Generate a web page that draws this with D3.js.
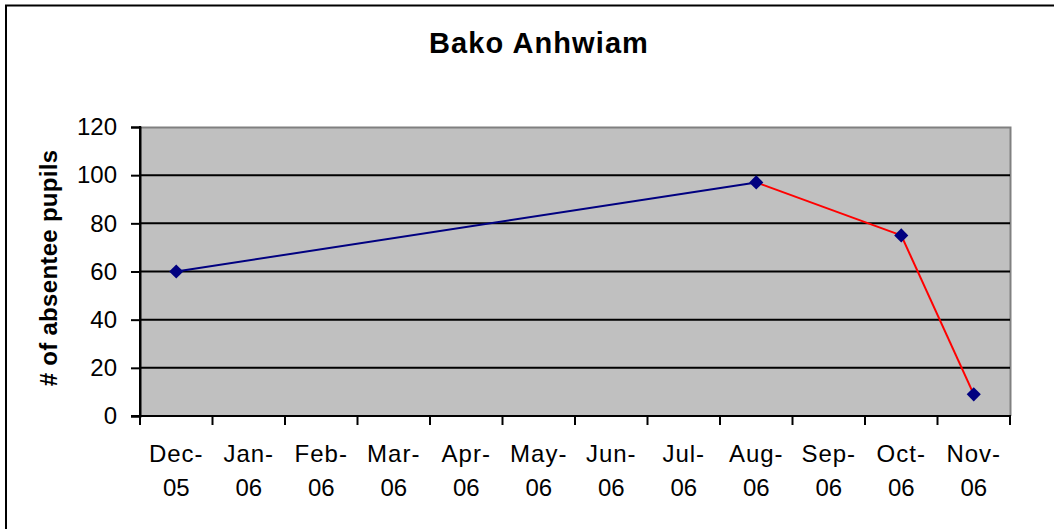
<!DOCTYPE html>
<html lang="en">
<head>
    <meta charset="UTF-8">
    <title>Bako Anhwiam</title>
    <script src="https://d3js.org/d3.v7.min.js"></script>
    <style>
        body{
            margin:0;
            background-color: white;
        }
        svg{
            display:block;
            font-family: "Liberation Sans", Arial, sans-serif;
        }
    </style>
</head>
<body>
    <script>
        // data
        const months = ["Dec-05","Jan-06","Feb-06","Mar-06","Apr-06","May-06","Jun-06","Jul-06","Aug-06","Sep-06","Oct-06","Nov-06"];
        const absentees = [60,null,null,null,null,null,null,null,97,null,75,9];
        const yTicks = [0,20,40,60,80,100,120];
        const chartTitle = "Bako Anhwiam";
        const yTitle = "# of absentee pupils";

        const w = 1054;
        const h = 529;
        const plot = {left:140,right:1010,top:127,bottom:416};
        const segColors = ["#000080","#FF0000","#FF0000"];

        const svg = d3.select("body").append("svg").attr("width",w).attr("height",h);

        // outer chart border
        svg.append("rect").attr("x",6).attr("y",5.5).attr("width",1200).attr("height",700)
            .attr("fill","white").attr("stroke","black").attr("stroke-width",2);

        const xScale = d3.scaleBand().domain(months).range([plot.left,plot.right]).padding(0);
        const yScale = d3.scaleLinear().domain([0,120]).range([plot.bottom,plot.top]);

        // plot area
        svg.append("rect").attr("x",plot.left).attr("y",plot.top)
            .attr("width",plot.right-plot.left).attr("height",plot.bottom-plot.top)
            .attr("fill","#C0C0C0");
        svg.append("path")
            .attr("d","M"+plot.left+","+(plot.top+0.5)+"H"+(plot.right+0.5)+"V"+plot.bottom)
            .attr("fill","none").attr("stroke","#808080").attr("stroke-width",2);

        // gridlines
        svg.append("g").selectAll("line").data(yTicks.filter(d=>d>0 && d<120)).enter().append("line")
            .attr("x1",plot.left).attr("x2",plot.right)
            .attr("y1",d=>yScale(d)).attr("y2",d=>yScale(d))
            .attr("stroke","black").attr("stroke-width",2);

        // y axis
        const yaxis = d3.axisLeft(yScale).tickValues(yTicks).tickSize(9).tickPadding(14).tickFormat(d3.format("d"));
        const gy = svg.append("g").attr("transform","translate("+plot.left+",0)").call(yaxis);
        gy.select(".domain").attr("stroke","black").attr("stroke-width",2);
        gy.selectAll(".tick line").attr("stroke","black").attr("stroke-width",2);
        gy.selectAll(".tick text").attr("font-size",24).attr("fill","black")
            .attr("font-family","'Liberation Sans', Arial, sans-serif");

        // x axis: ticks at category boundaries
        const gx = svg.append("g");
        gx.append("line").attr("x1",plot.left-9).attr("x2",plot.right+1)
            .attr("y1",plot.bottom).attr("y2",plot.bottom)
            .attr("stroke","black").attr("stroke-width",2);
        const bounds = months.map(m=>xScale(m)).concat([plot.right]);
        gx.selectAll("line.tk").data(bounds).enter().append("line").attr("class","tk")
            .attr("x1",d=>d).attr("x2",d=>d).attr("y1",plot.bottom).attr("y2",plot.bottom+9)
            .attr("stroke","black").attr("stroke-width",2);
        const lbl = gx.selectAll("text").data(months).enter().append("text")
            .attr("x",d=>xScale(d)+xScale.bandwidth()/2)
            .attr("text-anchor","middle").attr("font-size",24).attr("fill","black");
        lbl.append("tspan").attr("x",d=>xScale(d)+xScale.bandwidth()/2).attr("y",462)
            .attr("letter-spacing",1).text(d=>d.split("-")[0]+"-");
        lbl.append("tspan").attr("x",d=>xScale(d)+xScale.bandwidth()/2).attr("y",496)
            .text(d=>d.split("-")[1]);

        // y axis left spine drawn over plot area
        svg.append("line").attr("x1",plot.left).attr("x2",plot.left)
            .attr("y1",plot.top-1).attr("y2",plot.bottom+9)
            .attr("stroke","black").attr("stroke-width",2);

        // series
        const pts = months.map((m,i)=>({m:m,v:absentees[i]})).filter(d=>d.v!==null);
        const cx = d=>xScale(d.m)+xScale.bandwidth()/2;
        for(let i=0;i<pts.length-1;i++){
            svg.append("line")
                .attr("x1",cx(pts[i])).attr("y1",yScale(pts[i].v))
                .attr("x2",cx(pts[i+1])).attr("y2",yScale(pts[i+1].v))
                .attr("stroke",segColors[i]).attr("stroke-width",2);
        }
        const diamond = d3.symbol().type(d3.symbolSquare).size(100);
        svg.selectAll("path.mk").data(pts).enter().append("path").attr("class","mk")
            .attr("d",diamond)
            .attr("transform",d=>"translate("+cx(d)+","+yScale(d.v)+") rotate(45)")
            .attr("fill","#000080");

        // titles
        svg.append("text").attr("x",539).attr("y",53).attr("text-anchor","middle")
            .attr("font-size",29).attr("font-weight","bold").attr("letter-spacing",1.1)
            .text(chartTitle);
        svg.append("text").attr("transform","translate(57,268) rotate(-90)")
            .attr("text-anchor","middle").attr("font-size",24).attr("font-weight","bold")
            .attr("letter-spacing",0.3).text(yTitle);
    </script>
</body>
</html>
